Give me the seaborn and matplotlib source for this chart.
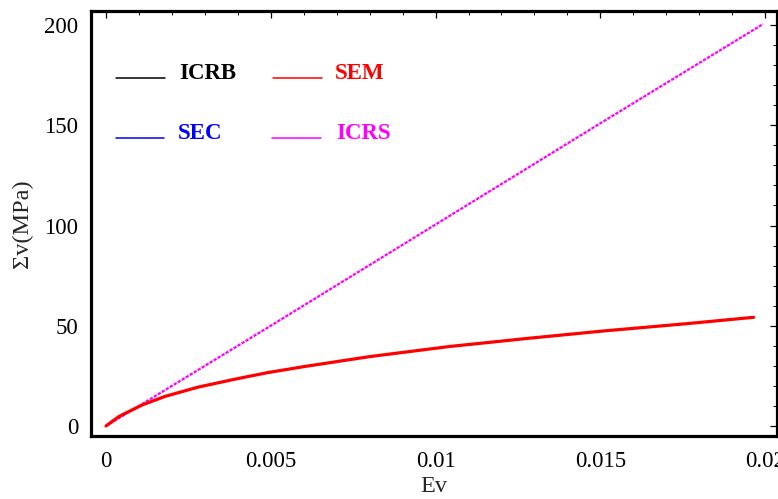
import matplotlib
matplotlib.use('Agg')
import matplotlib.pyplot as plt
from matplotlib.ticker import MultipleLocator
import pandas as pd
import seaborn as sns

# values
sem_ev = [0, 0.0004, 0.0011, 0.0018, 0.0028, 0.0039, 0.0049, 0.006, 0.008,
          0.0104, 0.0128, 0.0151, 0.0176, 0.01965]
sem_sv = [0, 4.8, 10.5, 14.8, 19.4, 23.3, 26.6, 29.6, 34.6,
          39.6, 43.7, 47.4, 51.0, 54.2]
icrs_ev = [0, 0.005, 0.01, 0.015, 0.01994]
icrs_sv = [0, 50.0, 100.5, 151.0, 200.5]

x_ticks = [0, 0.005, 0.01, 0.015, 0.02]
x_labels = ['0', '0.005', '0.01', '0.015', '0.02']
y_ticks = [0, 50, 100, 150, 200]

names = ['ICRB', 'SEM', 'SEC', 'ICRS']
colors = ['black', 'red', 'blue', 'magenta']

sns.set_style('white')
plt.rcParams['font.family'] = ['Liberation Serif', 'DejaVu Serif']

fig = plt.figure(figsize=(7.78, 4.99), dpi=100)
ax = fig.add_axes([91 / 778, 63 / 499, 686 / 778, 425 / 499])

sem = pd.DataFrame({'Ev': sem_ev, 'Sv': sem_sv})
icrs = pd.DataFrame({'Ev': icrs_ev, 'Sv': icrs_sv})

sns.lineplot(data=icrs, x='Ev', y='Sv', color='magenta', lw=1.6,
             linestyle=(0, (1.5, 0.6)), ax=ax, sort=False)
sns.lineplot(data=sem, x='Ev', y='Sv', color='red', lw=2.3, ax=ax, sort=False)

ax.set_xlim(-0.000455, 0.02036)
ax.set_ylim(-5.0, 207)

ax.set_xticks(x_ticks)
ax.set_xticklabels(x_labels)
ax.set_yticks(y_ticks)
ax.xaxis.set_minor_locator(MultipleLocator(0.001))
ax.yaxis.set_minor_locator(MultipleLocator(10))
ax.tick_params(which='both', direction='in', top=True, right=True,
               labeltop=False, labelright=False, colors='black')
ax.tick_params(which='major', length=5, width=0.9, labelsize=16.5)
ax.tick_params(which='minor', length=3, width=0.7)
ax.tick_params(axis='x', which='major', pad=11)
ax.tick_params(axis='y', which='major', pad=9)

for s in ax.spines.values():
    s.set_visible(True)
    s.set_linewidth(2.3)
    s.set_color('black')

ax.set_xlabel('Ev', fontsize=17.5, labelpad=3)
ax.set_ylabel('\u03a3v(MPa)', fontsize=17.5, labelpad=8)

# legend written inside the frame, as in the reference
rows = [(0.842, 0.840), (0.842, 0.840), (0.7012, 0.6988), (0.7012, 0.6988)]
swatch_x = [(0.0364, 0.1079), (0.2653, 0.3367), (0.0364, 0.1065), (0.2638, 0.3353)]
text_x = [0.1283, 0.3557, 0.1268, 0.3571]
for name, c, (ly, ty), (x0, x1), tx in zip(names, colors, rows, swatch_x, text_x):
    ax.plot([x0, x1], [ly, ly], color=c, lw=1.1, transform=ax.transAxes)
    ax.text(tx, ty, name, color=c, fontsize=16.5, fontweight='bold',
            va='baseline', ha='left', transform=ax.transAxes)

fig.savefig('out.png', dpi=100)
